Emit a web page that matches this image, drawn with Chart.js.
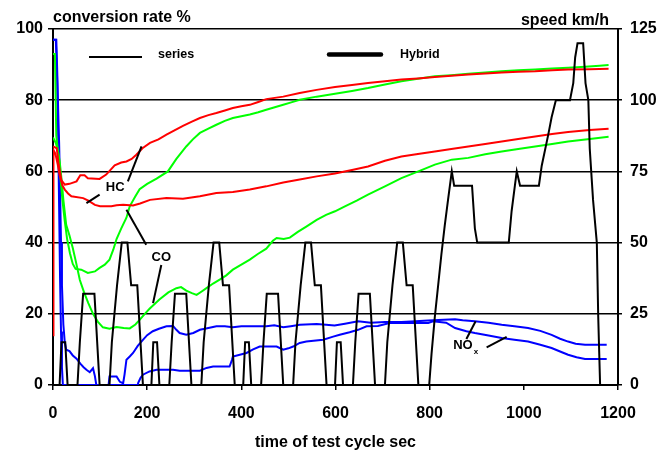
<!DOCTYPE html>
<html>
<head>
<meta charset="utf-8">
<script src="https://cdn.jsdelivr.net/npm/chart.js@4/dist/chart.umd.min.js"></script>
<style>
  html, body { margin: 0; padding: 0; background: #fff; }
  canvas { display: block; }
</style>
</head>
<body>
<canvas id="chart" width="671" height="453"></canvas>
<script>
// time of test cycle in s, conversion rates in %, speed in km/h
var xTicks = [0, 200, 400, 600, 800, 1000, 1200];
var rateTicks = [0, 20, 40, 60, 80, 100];
var speedTicks = [0, 25, 50, 75, 100, 125];

// HC (red)
var hcUpper = [[0,67],[8,66.5],[12,62],[18,57.5],[25,56.3],[35,56.5],[50,57.2],[58,58.9],[67,58.9],[74,58.1],[99,57.9],[113,59.1],[131,61.7],[145,62.5],[156,62.8],[167,63.5],[177,64.7],[190,66.5],[206,68],[224,69],[241,70.3],[258,71.5],[276,72.8],[295,74],[312,75],[330,75.8],[347,76.4],[365,77.1],[382,77.8],[400,78.3],[418,78.7],[436,79.5],[453,80.3],[489,81],[524,82],[560,82.9],[599,83.7],[635,84.3],[669,84.8],[705,85.3],[740,85.8],[775,86.1],[811,86.5],[846,86.9],[882,87.2],[918,87.5],[953,87.8],[988,88],[1024,88.1],[1060,88.4],[1094,88.6],[1140,88.7],[1180,88.8]];
var hcLower = [[0,14],[1,66],[5,65],[10,62],[14,59],[20,56],[25,54.9],[32,53.8],[39,53],[64,52.5],[75,51.8],[89,50.6],[100,50.2],[124,50.2],[135,50.5],[149,50.6],[170,50.4],[185,51],[206,52],[241,52.5],[276,52.3],[312,53],[347,53.9],[382,54.2],[418,54.9],[453,55.8],[489,56.9],[524,57.7],[560,58.6],[599,59.4],[635,60.4],[669,61.4],[705,63],[740,64.2],[775,64.9],[811,65.6],[846,66.3],[882,67],[918,67.7],[953,68.4],[988,69.1],[1024,69.8],[1060,70.5],[1094,71.1],[1140,71.6],[1180,72]];

// CO (green)
var coUpper = [[0,93],[4,93],[7,70],[12,64],[16,58],[20,52],[25,46],[30,41],[36,37],[42,34],[48,32.6],[60,32.4],[74,31.5],[89,31.9],[99,32.9],[110,33.8],[120,35.2],[128,38],[135,41],[145,44],[156,47],[163,50.2],[175,53],[184,55],[200,56.5],[220,58],[244,60],[262,63.5],[283,67],[297,69],[312,70.8],[330,72],[347,73.1],[365,74.2],[382,75],[400,75.5],[418,76],[436,76.6],[453,77.3],[471,78],[489,78.7],[506,79.4],[524,80.1],[560,81],[599,81.8],[635,82.6],[669,83.4],[705,84.4],[740,85.3],[775,86],[811,86.7],[846,87],[882,87.4],[918,87.8],[953,88.1],[988,88.4],[1024,88.6],[1060,88.9],[1094,89.1],[1130,89.4],[1161,89.7],[1180,89.9]];
var coLower = [[0,69.5],[6,68],[10,66],[14,63],[18,58],[22,52],[28,45],[35,42],[42,38.5],[48,35],[57,29.5],[66,26],[75,23],[85,20],[95,17.8],[106,16.2],[120,15.8],[135,16.3],[150,16],[163,15.9],[175,17],[184,18.3],[195,20],[205,21.4],[226,24],[245,26],[262,27.2],[272,27.5],[283,26.5],[295,25.8],[305,25.3],[315,26.2],[326,27.2],[340,28.5],[354,29.6],[368,30.8],[382,32.4],[400,33.8],[418,35.2],[435,36.8],[453,38.3],[467,40.5],[475,41.3],[490,41],[503,41.4],[520,43],[538,44.5],[560,46.4],[580,47.8],[599,48.8],[620,50.2],[645,51.8],[669,53.5],[705,55.8],[740,58.1],[776,60],[811,61.9],[847,63.3],[882,63.8],[918,64.8],[953,65.6],[988,66.3],[1024,67],[1060,67.7],[1094,68.4],[1140,69.1],[1180,69.7]];

// NOx (blue)
var noxUpper = [[0,97],[7,97],[9,88],[11,77],[13,68],[15,55],[17,40],[19,28],[22,17],[25,12],[28,9.9],[35,9.5],[42,8.3],[50,7.4],[58,6],[65,5],[71,4.3],[78,3.6],[85,4.7],[89,2.5],[92,0],[118,0],[120,2.4],[135,2.4],[142,0.9],[149,0.5],[152,3],[156,7.1],[163,8],[170,9],[180,11],[191,12.7],[200,14],[212,15.1],[225,15.8],[241,16.5],[255,16.6],[262,15.5],[269,14.6],[283,14.1],[298,14.6],[312,15.5],[330,16],[347,16.5],[365,16.5],[382,16.2],[400,16.5],[453,16.5],[470,16.8],[489,16.2],[505,16.5],[524,16.9],[560,17.1],[580,16.9],[598,16.7],[620,17.2],[648,17.9],[675,17.5],[705,17.7],[740,17.7],[770,17.9],[797,18.1],[830,18.3],[854,18.5],[870,18.2],[896,17.9],[925,17.5],[953,16.9],[980,16.5],[1009,16],[1035,15.2],[1059,14.1],[1077,13],[1094,12.2],[1110,11.6],[1130,11.3],[1176,11.3]];
var noxLower = [[0,97],[6,97],[9,85],[11,70],[13,50],[15,30],[17,15],[19,5],[21,0],[180,0],[181,0.6],[186,2],[191,2.9],[205,3.8],[220,4.3],[255,4.3],[269,4],[312,4],[326,4.8],[340,5.2],[375,5.2],[380,7],[382,8],[411,9],[425,10],[439,10.8],[475,10.8],[489,9.9],[500,10.3],[510,10.8],[524,11.8],[538,12.2],[574,12.7],[595,13.6],[609,14.1],[630,14.8],[648,15.5],[666,16.5],[690,16.6],[715,17.4],[797,17.4],[807,17.9],[835,17.5],[854,16],[878,15.1],[896,14.6],[925,13.9],[953,13.2],[980,12.7],[1009,12.2],[1035,11.3],[1059,10.4],[1077,9.4],[1094,8.5],[1112,7.8],[1130,7.3],[1176,7.3]];

// vehicle speed, right axis
var speed = [
  [0,0],[14,0],[18,15],[26,15],[31,0],[52,0],[57,15],[64,32],[88,32],[99,0],[120,0],[125,15],[136,35],[146,50],[158,50],[166,35],[179,35],[191,0],
  [209,0],[213,15],[221,15],[226,0],[247,0],[252,15],[259,32],[283,32],[294,0],[315,0],[320,15],[331,35],[341,50],[353,50],[361,35],[374,35],[386,0],
  [404,0],[408,15],[416,15],[421,0],[442,0],[447,15],[454,32],[478,32],[489,0],[510,0],[515,15],[526,35],[536,50],[548,50],[556,35],[569,35],[581,0],
  [599,0],[603,15],[611,15],[616,0],[637,0],[642,15],[649,32],[673,32],[684,0],[705,0],[710,15],[721,35],[731,50],[743,50],[751,35],[764,35],[776,0],
  [799,0],[804,11],[811,24],[818,35],[825,46],[832,56],[839,65],[847,75],[852,70],[890,70],[896,55],[901,50],[968,50],[974,61],[981,70],[985,75],[992,70],[1032,70],[1038,77],[1052,88],[1059,94],[1068,100],[1098,100],[1105,106],[1109,115],[1114,120],[1126,120],[1131,106],[1137,100],[1140,83],[1147,65],[1155,50],[1158,24],[1162,0],[1180,0]
];

// curve labels and their leader lines, in data units
var curveLabels = [
  { text: 'HC', t: 132, v: 55.4 },
  { text: 'CO', t: 230, v: 35.9 },
  { text: 'NO', sub: 'x', t: 850, v: 11 }
];
var leaders = [
  [[159, 57.2], [188, 67]],
  [[99, 53.5], [71, 51.1]],
  [[198, 39.4], [156, 49.2]],
  [[230, 33.7], [212.5, 23]],
  [[878, 12.9], [897.6, 17.9]],
  [[921, 10.6], [963.5, 13.5]]
];

var FONT = '"Liberation Sans", Arial, sans-serif';

function pts(arr) {
  return arr.map(function(p) { return { x: p[0], y: p[1] }; });
}

function line(data, color, axis) {
  return {
    data: pts(data),
    borderColor: color,
    borderWidth: 2,
    pointRadius: 0,
    tension: 0,
    fill: false,
    yAxisID: axis || 'y'
  };
}

var overlay = {
  id: 'overlay',
  afterDatasetsDraw: function(chart) {
    var ctx = chart.ctx;
    var xs = chart.scales.x, ys = chart.scales.y;
    ctx.save();
    ctx.strokeStyle = '#000';
    ctx.fillStyle = '#000';
    ctx.lineWidth = 2;
    leaders.forEach(function(l) {
      ctx.beginPath();
      ctx.moveTo(xs.getPixelForValue(l[0][0]), ys.getPixelForValue(l[0][1]));
      ctx.lineTo(xs.getPixelForValue(l[1][0]), ys.getPixelForValue(l[1][1]));
      ctx.stroke();
    });
    ctx.font = 'bold 13px ' + FONT;
    ctx.textBaseline = 'middle';
    curveLabels.forEach(function(c) {
      var px = xs.getPixelForValue(c.t), py = ys.getPixelForValue(c.v);
      if (c.sub) {
        ctx.textAlign = 'left';
        ctx.font = 'bold 13px ' + FONT;
        ctx.fillText(c.text, px, py);
        var w = ctx.measureText(c.text).width;
        ctx.font = 'bold 8px ' + FONT;
        ctx.fillText(c.sub, px + w + 1, py + 6);
      } else {
        ctx.textAlign = 'center';
        ctx.fillText(c.text, px, py);
      }
    });
    ctx.restore();
  },
  afterDraw: function(chart) {
    var ctx = chart.ctx;
    ctx.save();
    ctx.fillStyle = '#000';
    ctx.strokeStyle = '#000';
    ctx.font = 'bold 16px ' + FONT;
    ctx.textBaseline = 'alphabetic';
    ctx.textAlign = 'left';
    ctx.fillText('conversion rate %', 53, 22);
    ctx.textAlign = 'right';
    ctx.fillText('speed km/h', 609, 25);

    // line style key
    ctx.lineWidth = 2;
    ctx.beginPath(); ctx.moveTo(89, 57); ctx.lineTo(142, 57); ctx.stroke();
    ctx.lineWidth = 4.5;
    ctx.lineCap = 'round';
    ctx.beginPath(); ctx.moveTo(329, 54.5); ctx.lineTo(381, 54.5); ctx.stroke();
    ctx.font = 'bold 12.5px ' + FONT;
    ctx.textAlign = 'left';
    ctx.fillText('series', 158, 58);
    ctx.fillText('Hybrid', 400, 58);
    ctx.restore();
  }
};

var tickFont = { family: FONT, size: 16, weight: 'bold' };
function plain(v) { return String(v); }

new Chart(document.getElementById('chart'), {
  type: 'line',
  data: {
    datasets: [
      line(speed, '#000000', 'y1'),
      line(hcUpper, '#ff0000'),
      line(hcLower, '#ff0000'),
      line(coUpper, '#00ff00'),
      line(coLower, '#00ff00'),
      line(noxUpper, '#0000ff'),
      line(noxLower, '#0000ff')
    ]
  },
  options: {
    responsive: false,
    animation: false,
    devicePixelRatio: 1,
    layout: { padding: { top: 29, left: 0, right: 0, bottom: 0 } },
    plugins: { legend: { display: false }, tooltip: { enabled: false } },
    scales: {
      x: {
        type: 'linear',
        min: 0, max: 1200,
        afterBuildTicks: function(s) { s.ticks = xTicks.map(function(v) { return { value: v }; }); },
        afterFit: function(s) { s.height = 68; },
        ticks: { font: tickFont, color: '#000', padding: 14, maxRotation: 0, callback: plain },
        grid: { drawOnChartArea: false, color: '#000', lineWidth: 1.5, tickLength: 5 },
        border: { color: '#000', width: 2 },
        title: { display: true, text: 'time of test cycle sec', color: '#000',
                 font: { family: FONT, size: 16, weight: 'bold' }, padding: { top: 0, bottom: 1 } }
      },
      y: {
        position: 'left',
        min: 0, max: 100,
        afterBuildTicks: function(s) { s.ticks = rateTicks.map(function(v) { return { value: v }; }); },
        afterFit: function(s) { s.width = 53; },
        ticks: { font: tickFont, color: '#000', padding: 5, callback: plain },
        grid: { color: '#000', lineWidth: 1.5, tickLength: 5 },
        border: { color: '#000', width: 2 }
      },
      y1: {
        position: 'right',
        min: 0, max: 125,
        afterBuildTicks: function(s) { s.ticks = speedTicks.map(function(v) { return { value: v }; }); },
        afterFit: function(s) { s.width = 53; },
        ticks: { font: tickFont, color: '#000', padding: 8, callback: plain },
        grid: { drawOnChartArea: false, color: '#000', lineWidth: 1.5, tickLength: 4 },
        border: { color: '#000', width: 2 }
      }
    }
  },
  plugins: [overlay]
});
</script>
</body>
</html>
